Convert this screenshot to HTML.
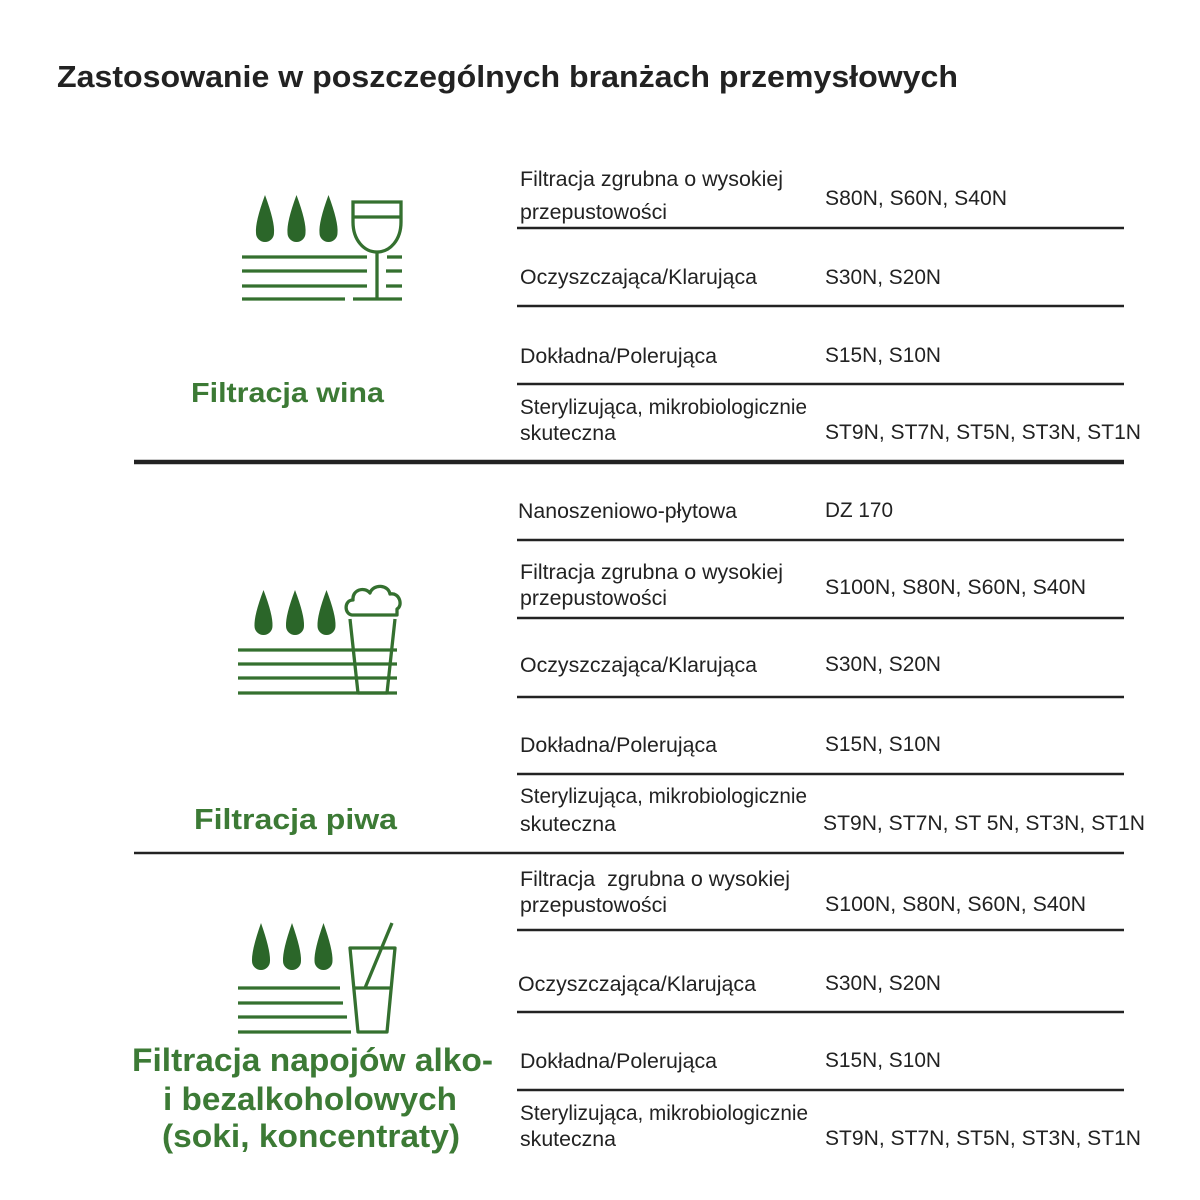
<!DOCTYPE html>
<html><head><meta charset="utf-8"><style>
html,body{margin:0;padding:0;background:#fff;}
svg{display:block;}
.b{font-family:"Liberation Sans",Arial,sans-serif;font-size:21.5px;fill:#222;}
.h{font-family:"Liberation Sans",Arial,sans-serif;font-weight:bold;fill:#3c7a35;}
</style></head><body>
<svg width="1200" height="1200" viewBox="0 0 1200 1200" xmlns="http://www.w3.org/2000/svg">
<rect width="1200" height="1200" fill="#fff"/>
<text x="57" y="87" font-family="Liberation Sans, Arial, sans-serif" font-weight="bold" font-size="31" fill="#222" textLength="901" lengthAdjust="spacingAndGlyphs">Zastosowanie w poszczególnych branżach przemysłowych</text>

<!-- separators -->
<g stroke="#222" stroke-width="2.5">
<line x1="517" y1="228" x2="1124" y2="228"/>
<line x1="517" y1="306" x2="1124" y2="306"/>
<line x1="517" y1="384" x2="1124" y2="384"/>
<line x1="134" y1="462" x2="1124" y2="462" stroke-width="4.5"/>
<line x1="517" y1="540" x2="1124" y2="540"/>
<line x1="517" y1="618" x2="1124" y2="618"/>
<line x1="517" y1="697" x2="1124" y2="697"/>
<line x1="517" y1="774" x2="1124" y2="774"/>
<line x1="134" y1="853" x2="1124" y2="853"/>
<line x1="517" y1="930" x2="1124" y2="930"/>
<line x1="517" y1="1012" x2="1124" y2="1012"/>
<line x1="517" y1="1090" x2="1124" y2="1090"/>
</g>

<!-- wine section text -->
<text class="b" x="520" y="186" textLength="263" lengthAdjust="spacingAndGlyphs">Filtracja zgrubna o wysokiej</text>
<text class="b" x="520" y="219" textLength="147" lengthAdjust="spacingAndGlyphs">przepustowości</text>
<text class="b" x="825" y="205" textLength="182" lengthAdjust="spacingAndGlyphs">S80N, S60N, S40N</text>
<text class="b" x="520" y="284" textLength="237" lengthAdjust="spacingAndGlyphs">Oczyszczająca/Klarująca</text>
<text class="b" x="825" y="284" textLength="116" lengthAdjust="spacingAndGlyphs">S30N, S20N</text>
<text class="b" x="520" y="363" textLength="197" lengthAdjust="spacingAndGlyphs">Dokładna/Polerująca</text>
<text class="b" x="825" y="362" textLength="116" lengthAdjust="spacingAndGlyphs">S15N, S10N</text>
<text class="b" x="520" y="414" textLength="287" lengthAdjust="spacingAndGlyphs">Sterylizująca, mikrobiologicznie</text>
<text class="b" x="520" y="440" textLength="96" lengthAdjust="spacingAndGlyphs">skuteczna</text>
<text class="b" x="825" y="439" textLength="316" lengthAdjust="spacingAndGlyphs">ST9N, ST7N, ST5N, ST3N, ST1N</text>
<text class="h" x="191" y="402" font-size="28" textLength="193" lengthAdjust="spacingAndGlyphs">Filtracja wina</text>

<!-- beer section text -->
<text class="b" x="518" y="518" textLength="219" lengthAdjust="spacingAndGlyphs">Nanoszeniowo-płytowa</text>
<text class="b" x="825" y="517" textLength="68" lengthAdjust="spacingAndGlyphs">DZ 170</text>
<text class="b" x="520" y="579" textLength="263" lengthAdjust="spacingAndGlyphs">Filtracja zgrubna o wysokiej</text>
<text class="b" x="520" y="605" textLength="147" lengthAdjust="spacingAndGlyphs">przepustowości</text>
<text class="b" x="825" y="594" textLength="261" lengthAdjust="spacingAndGlyphs">S100N, S80N, S60N, S40N</text>
<text class="b" x="520" y="672" textLength="237" lengthAdjust="spacingAndGlyphs">Oczyszczająca/Klarująca</text>
<text class="b" x="825" y="671" textLength="116" lengthAdjust="spacingAndGlyphs">S30N, S20N</text>
<text class="b" x="520" y="752" textLength="197" lengthAdjust="spacingAndGlyphs">Dokładna/Polerująca</text>
<text class="b" x="825" y="751" textLength="116" lengthAdjust="spacingAndGlyphs">S15N, S10N</text>
<text class="b" x="520" y="803" textLength="287" lengthAdjust="spacingAndGlyphs">Sterylizująca, mikrobiologicznie</text>
<text class="b" x="520" y="831" textLength="96" lengthAdjust="spacingAndGlyphs">skuteczna</text>
<text class="b" x="823" y="830" textLength="322" lengthAdjust="spacingAndGlyphs">ST9N, ST7N, ST 5N, ST3N, ST1N</text>
<text class="h" x="194" y="829" font-size="29" textLength="203" lengthAdjust="spacingAndGlyphs">Filtracja piwa</text>

<!-- juice section text -->
<text class="b" x="520" y="886" textLength="270" lengthAdjust="spacingAndGlyphs" xml:space="preserve">Filtracja  zgrubna o wysokiej</text>
<text class="b" x="520" y="912" textLength="147" lengthAdjust="spacingAndGlyphs">przepustowości</text>
<text class="b" x="825" y="911" textLength="261" lengthAdjust="spacingAndGlyphs">S100N, S80N, S60N, S40N</text>
<text class="b" x="518" y="991" textLength="238" lengthAdjust="spacingAndGlyphs">Oczyszczająca/Klarująca</text>
<text class="b" x="825" y="990" textLength="116" lengthAdjust="spacingAndGlyphs">S30N, S20N</text>
<text class="b" x="520" y="1068" textLength="197" lengthAdjust="spacingAndGlyphs">Dokładna/Polerująca</text>
<text class="b" x="825" y="1067" textLength="116" lengthAdjust="spacingAndGlyphs">S15N, S10N</text>
<text class="b" x="520" y="1120" textLength="288" lengthAdjust="spacingAndGlyphs">Sterylizująca, mikrobiologicznie</text>
<text class="b" x="520" y="1146" textLength="96" lengthAdjust="spacingAndGlyphs">skuteczna</text>
<text class="b" x="825" y="1145" textLength="316" lengthAdjust="spacingAndGlyphs">ST9N, ST7N, ST5N, ST3N, ST1N</text>
<text class="h" x="132" y="1071" font-size="32" textLength="361" lengthAdjust="spacingAndGlyphs">Filtracja napojów alko-</text>
<text class="h" x="163" y="1110" font-size="32" textLength="294" lengthAdjust="spacingAndGlyphs">i bezalkoholowych</text>
<text class="h" x="162" y="1147" font-size="32" textLength="298" lengthAdjust="spacingAndGlyphs">(soki, koncentraty)</text>

<!-- Wine icon -->
<g fill="#2b6629">
<path d="M265,195 Q275,222 274,233 A9,9 0 0 1 256,233 Q255,222 265,195 Z"/>
<path d="M296.5,195 Q306.5,222 305.5,233 A9,9 0 0 1 287.5,233 Q286.5,222 296.5,195 Z"/>
<path d="M328.5,195 Q338.5,222 337.5,233 A9,9 0 0 1 319.5,233 Q318.5,222 328.5,195 Z"/>
</g>
<g stroke="#34702f" stroke-width="3.3" fill="none">
<path d="M353,202 L401,202 L401,222 C401,240 390,252 377,252 C364,252 353,240 353,222 Z"/>
<line x1="353" y1="217" x2="401" y2="217"/>
<line x1="377" y1="252" x2="377" y2="298"/>
<line x1="242" y1="257" x2="367" y2="257"/>
<line x1="387" y1="257" x2="402" y2="257"/>
<line x1="242" y1="271" x2="367" y2="271"/>
<line x1="386" y1="271" x2="402" y2="271"/>
<line x1="242" y1="286" x2="367" y2="286"/>
<line x1="386" y1="286" x2="402" y2="286"/>
<line x1="242" y1="299" x2="345" y2="299"/>
<line x1="353" y1="299" x2="402" y2="299"/>
</g>

<!-- Beer icon -->
<g fill="#2b6629">
<path d="M263.5,590 Q273,615 272.5,626 A9,9 0 0 1 254.5,626 Q254,615 263.5,590 Z"/>
<path d="M295,590 Q304.5,615 304,626 A9,9 0 0 1 286,626 Q285.5,615 295,590 Z"/>
<path d="M326.5,590 Q336,615 335.5,626 A9,9 0 0 1 317.5,626 Q317,615 326.5,590 Z"/>
</g>
<g stroke="#34702f" stroke-width="3.3" fill="none" stroke-linejoin="round">
<path d="M352,615 C344,614 344,600 353,600 C352,590 364,586 370,593 C373,584 388,584 390,594 C400,592 403,606 397,609 L397,615 Z"/>
<path d="M350,619 L358,693 L387,693 L395,619"/>
<line x1="238" y1="650" x2="397" y2="650"/>
<line x1="238" y1="664" x2="397" y2="664"/>
<line x1="238" y1="678" x2="397" y2="678"/>
<line x1="238" y1="693" x2="397" y2="693"/>
</g>

<!-- Juice icon -->
<g fill="#2b6629">
<path d="M261,923 Q270.5,950 270,961 A9,9 0 0 1 252,961 Q251.5,950 261,923 Z"/>
<path d="M292,923 Q301.5,950 301,961 A9,9 0 0 1 283,961 Q282.5,950 292,923 Z"/>
<path d="M323.5,923 Q333,950 332.5,961 A9,9 0 0 1 314.5,961 Q314,950 323.5,923 Z"/>
</g>
<g stroke="#34702f" stroke-width="3.3" fill="none" stroke-linejoin="round">
<path d="M350,948 L395,948 L387,1032 L358,1032 Z"/>
<line x1="353" y1="988" x2="392" y2="988"/>
<line x1="365" y1="988" x2="392" y2="923"/>
<line x1="238" y1="988" x2="340" y2="988"/>
<line x1="238" y1="1003" x2="343" y2="1003"/>
<line x1="238" y1="1017" x2="347" y2="1017"/>
<line x1="238" y1="1032" x2="351" y2="1032"/>
</g>
</svg>
</body></html>
